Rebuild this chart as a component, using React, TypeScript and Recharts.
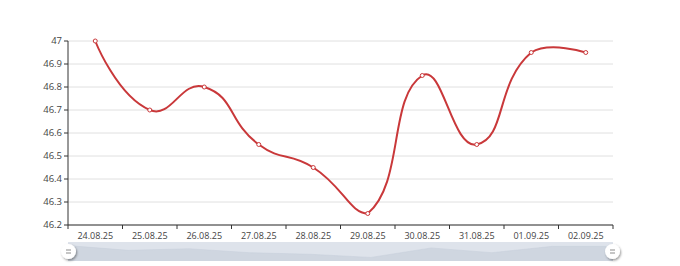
import { LineChart, Line, XAxis, YAxis, CartesianGrid, Brush, AreaChart, Area } from "recharts";

const dates = ["24.08.25", "25.08.25", "26.08.25", "27.08.25", "28.08.25", "29.08.25", "30.08.25", "31.08.25", "01.09.25", "02.09.25"];
const values = [47, 46.7, 46.8, 46.55, 46.45, 46.25, 46.85, 46.55, 46.95, 46.95];
const yTicks = [46.2, 46.3, 46.4, 46.5, 46.6, 46.7, 46.8, 46.9, 47];

const data = dates.map((date, i) => ({ date, value: values[i] }));

// data shadow in the slider uses the value range padded by 30% on each side
const vMin = Math.min(...values);
const vMax = Math.max(...values);
const pad = (vMax - vMin) * 0.3;

const LINE_COLOR = "#c9383a";
const TEXT_COLOR = "#444";
const AXIS_COLOR = "#333";

// slider box (same as plot width)
const SLIDER = { left: 68, top: 242, width: 545, height: 19 };

// smooth curve like echarts' smoothBezier (smooth = 0.5, clamped to the bbox of the points)
const SMOOTH = 0.5;
const smoothCurve = (context: any) => {
  let pts: number[][] = [];
  return {
    areaStart() {},
    areaEnd() {},
    lineStart() {
      pts = [];
    },
    point(x: number, y: number) {
      pts.push([+x, +y]);
    },
    lineEnd() {
      const n = pts.length;
      if (!n) return;
      context.moveTo(pts[0][0], pts[0][1]);
      if (n < 3) {
        for (let i = 1; i < n; i++) context.lineTo(pts[i][0], pts[i][1]);
        return;
      }
      const minX = Math.min(...pts.map(p => p[0]));
      const maxX = Math.max(...pts.map(p => p[0]));
      const minY = Math.min(...pts.map(p => p[1]));
      const maxY = Math.max(...pts.map(p => p[1]));
      const clamp = (p: number[]) => [
        Math.min(maxX, Math.max(minX, p[0])),
        Math.min(maxY, Math.max(minY, p[1])),
      ];
      const cps: number[][] = [];
      for (let i = 0; i < n; i++) {
        const p = pts[i];
        if (i === 0 || i === n - 1) {
          cps.push([p[0], p[1]]);
          continue;
        }
        const prev = pts[i - 1];
        const next = pts[i + 1];
        const vx = (next[0] - prev[0]) * SMOOTH;
        const vy = (next[1] - prev[1]) * SMOOTH;
        let d0 = Math.hypot(p[0] - prev[0], p[1] - prev[1]);
        let d1 = Math.hypot(p[0] - next[0], p[1] - next[1]);
        const sum = d0 + d1;
        if (sum !== 0) {
          d0 /= sum;
          d1 /= sum;
        }
        cps.push(clamp([p[0] - vx * d0, p[1] - vy * d0]));
        cps.push(clamp([p[0] + vx * d1, p[1] + vy * d1]));
      }
      for (let i = 0; i < n - 1; i++) {
        const c1 = cps[i * 2];
        const c2 = cps[i * 2 + 1];
        const p = pts[i + 1];
        context.bezierCurveTo(c1[0], c1[1], c2[0], c2[1], p[0], p[1]);
      }
    },
  };
};

// x tick: label in the middle of the band, tick mark on the band boundaries
const DateTick = (props: any) => {
  const { x, y, payload, index } = props;
  const half = payload?.offset ?? 27.25;
  const isLast = index === dates.length - 1;
  return (
    <g>
      <line x1={x - half} y1={y} x2={x - half} y2={y + 4} stroke={AXIS_COLOR} />
      {isLast && <line x1={x + half} y1={y} x2={x + half} y2={y + 4} stroke={AXIS_COLOR} />}
      <text x={x} y={y + 8} dy="0.71em" textAnchor="middle" fill={TEXT_COLOR} fontSize={9}>
        {payload.value}
      </text>
    </g>
  );
};

const Handle = (props: any) => {
  const { x, y, width, height } = props;
  const cx = x + width / 2;
  const cy = y + height / 2;
  return (
    <g>
      <circle cx={cx} cy={cy} r={7.5} fill="#fff" filter="url(#handleShadow)" />
      <line x1={cx - 2.5} y1={cy - 1.5} x2={cx + 2.5} y2={cy - 1.5} stroke="#8c8c8c" strokeWidth={1} />
      <line x1={cx - 2.5} y1={cy + 1.5} x2={cx + 2.5} y2={cy + 1.5} stroke="#8c8c8c" strokeWidth={1} />
    </g>
  );
};

export default function App() {
  return (
    <div style={{ position: "absolute", left: 0, top: 0, width: 680, height: 266, background: "#fff", fontFamily: "'Open Sans', sans-serif" }}>
      {/* data shadow of the zoom slider, drawn under the main chart */}
      <div style={{ position: "absolute", left: SLIDER.left, top: SLIDER.top, width: SLIDER.width, height: SLIDER.height, background: "#dee3eb" }}>
        <AreaChart width={SLIDER.width} height={SLIDER.height} data={data} margin={{ top: 0, right: 0, left: 0, bottom: 0 }}>
          <XAxis dataKey="date" hide />
          <YAxis hide domain={[vMin - pad, vMax + pad]} />
          <Area
            type="linear"
            dataKey="value"
            stroke="#c6cedb"
            strokeWidth={0.5}
            fill="#cfd6e0"
            fillOpacity={1}
            dot={false}
            activeDot={false}
            isAnimationActive={false}
          />
        </AreaChart>
      </div>
      <LineChart width={680} height={266} data={data} margin={{ top: 41, right: 67, left: 8, bottom: 2 }}>
        <defs>
          <filter id="handleShadow" x="-60%" y="-60%" width="220%" height="220%">
            <feDropShadow dx="1" dy="1.5" stdDeviation="1.2" floodColor="#000" floodOpacity="0.4" />
          </filter>
        </defs>
        <CartesianGrid vertical={false} stroke="#e0e0e0" />
        <XAxis
          dataKey="date"
          scale="band"
          height={20}
          axisLine={{ stroke: AXIS_COLOR }}
          tickLine={false}
          tickSize={0}
          tickMargin={0}
          interval={0}
          tick={<DateTick />}
        />
        <YAxis
          width={60}
          domain={[46.2, 47]}
          ticks={yTicks}
          interval={0}
          axisLine={{ stroke: AXIS_COLOR }}
          tickLine={{ stroke: AXIS_COLOR }}
          tickSize={4}
          tickMargin={2}
          tick={{ fill: TEXT_COLOR, fontSize: 9.5 }}
        />
        <Line
          type={smoothCurve as any}
          dataKey="value"
          stroke={LINE_COLOR}
          strokeWidth={2}
          dot={{ r: 2, fill: "#fff", stroke: LINE_COLOR, strokeWidth: 1 }}
          activeDot={false}
          isAnimationActive={false}
        />
        <Brush
          dataKey="date"
          x={SLIDER.left}
          y={SLIDER.top}
          width={SLIDER.width}
          height={SLIDER.height}
          travellerWidth={1}
          fill="transparent"
          stroke="transparent"
          traveller={(p: any) => <Handle {...p} />}
        />
      </LineChart>
    </div>
  );
}
